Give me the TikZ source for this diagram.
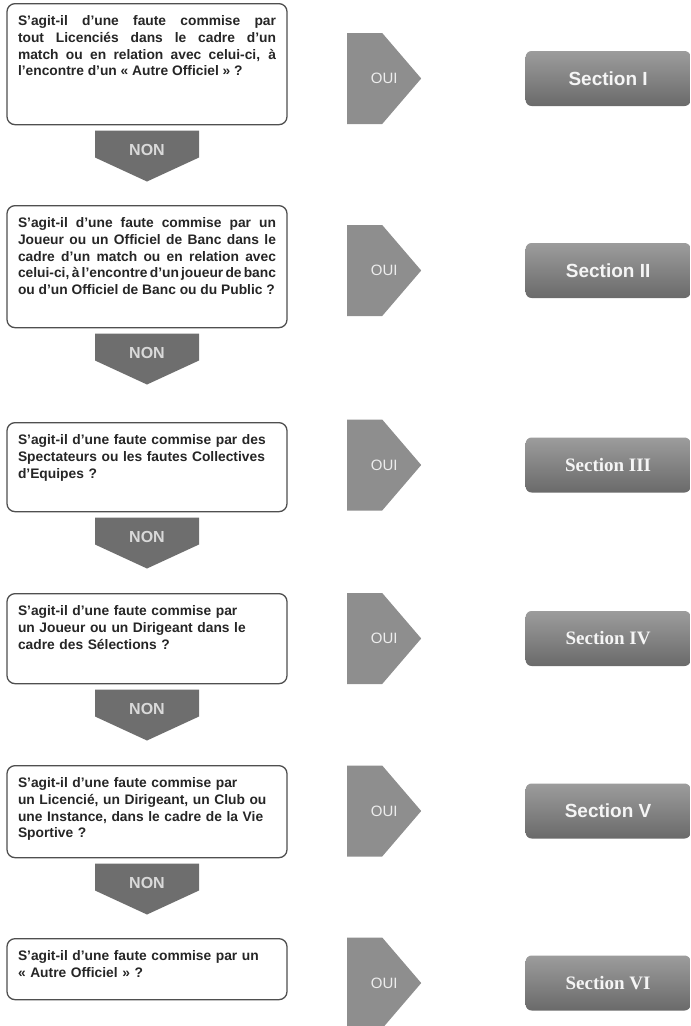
\documentclass[tikz,border=0pt]{standalone}
\usepackage{fontspec}
\setmainfont{Liberation Sans}
\newfontfamily\serifsec{Liberation Serif}
\usetikzlibrary{positioning}
\definecolor{qline}{HTML}{4F4F4F}
\definecolor{nongray}{HTML}{6E6E6E}
\definecolor{ouigray}{HTML}{8E8E8E}
\definecolor{sectop}{HTML}{9C9C9C}
\definecolor{secbot}{HTML}{6A6A6A}
\tikzset{
  question/.style={draw=qline, line width=1.3pt, rounded corners=8pt, fill=white, anchor=north,
    text width=258pt, inner xsep=11pt, inner ysep=12pt, text height=10pt,
    font=\fontsize{13.8}{16.7}\selectfont\bfseries, text=black!85},
  non/.style={rectangle, fill=white, minimum width=104pt, minimum height=51pt, inner sep=0pt,
    text=black!15, font=\fontsize{16}{16}\selectfont\bfseries, text height=11.5pt, text depth=13pt,
    path picture={\fill[nongray] (path picture bounding box.north west)
      -- (path picture bounding box.north east) -- ([yshift=24pt]path picture bounding box.south east)
      -- (path picture bounding box.south) -- ([yshift=24pt]path picture bounding box.south west) -- cycle;}},
  oui/.style={rectangle, fill=white, minimum width=74pt, minimum height=91pt, inner sep=0pt, anchor=west,
    text=black!7, font=\fontsize{15}{15}\selectfont,
    path picture={\fill[ouigray] (path picture bounding box.north west)
      -- ([xshift=-39pt]path picture bounding box.north east) -- (path picture bounding box.east)
      -- ([xshift=-39pt]path picture bounding box.south east) -- (path picture bounding box.south west) -- cycle;}},
  secbox/.style={rounded corners=6pt, top color=sectop, bottom color=secbot, minimum width=165pt,
    minimum height=55pt, text=black!4, font=\fontsize{19}{19}\selectfont\bfseries},
  secserif/.style={font=\fontsize{19}{19}\selectfont\serifsec\bfseries},
}
\begin{document}
\begin{tikzpicture}[x=1pt, y=-1pt]
\useasboundingbox (0,0) rectangle (691,1026);
% questions
\node[question, align=justify, text depth=87pt] (q1) at (147,3) {\parfillskip=0pt
  S'agit-il d'une faute commise par\linebreak tout Licenciés dans le cadre d'un\linebreak
  match ou en relation avec celui-ci, à\linebreak l'encontre d'un « Autre Officiel » ?};
\node[question, align=justify, text depth=88pt] (q2) at (147,205) {\parfillskip=0pt
  S'agit-il d'une faute commise par un\linebreak Joueur ou un Officiel de Banc dans le\linebreak
  cadre d'un match ou en relation avec\linebreak
  {\spaceskip=1pt plus 2pt minus 0.5pt celui-ci, à l'encontre d'un joueur de banc}\linebreak
  ou d'un Officiel de Banc ou du Public ?};
\node[question, align=left, text depth=55pt] (q3) at (147,422)
  {S'agit-il d'une faute commise par des\\ Spectateurs ou les fautes Collectives\\ d'Equipes ?};
\node[question, align=left, text depth=56pt] (q4) at (147,593)
  {S'agit-il d'une faute commise par\\ un Joueur ou un Dirigeant dans le\\ cadre des Sélections ?};
\node[question, align=left, text depth=58pt] (q5) at (147,765)
  {S'agit-il d'une faute commise par\\ un Licencié, un Dirigeant, un Club ou\\
   une Instance, dans le cadre de la Vie\\ Sportive ?};
\node[question, align=left, text depth=27pt] (q6) at (147,938)
  {S'agit-il d'une faute commise par un\\ « Autre Officiel » ?};
% NON
\node[non, below=5pt of q1] (n1) {NON};
\node[non, below=5pt of q2] (n2) {NON};
\node[non, below=5pt of q3] (n3) {NON};
\node[non, below=5pt of q4] (n4) {NON};
\node[non, below=5pt of q5] (n5) {NON};
% OUI
\node[oui] (o1) at (347,78.5) {OUI};
\node[oui] (o2) at (347,270.5) {OUI};
\node[oui] (o3) at (347,465) {OUI};
\node[oui] (o4) at (347,638.5) {OUI};
\node[oui] (o5) at (347,811) {OUI};
\node[oui] (o6) at (347,983) {OUI};
% sections
\node[secbox, right=104pt of o1] (s1) {Section I};
\node[secbox, right=104pt of o2] (s2) {Section II};
\node[secbox, secserif, right=104pt of o3] (s3) {Section III};
\node[secbox, secserif, right=104pt of o4] (s4) {Section IV};
\node[secbox, right=104pt of o5] (s5) {Section V};
\node[secbox, secserif, right=104pt of o6] (s6) {Section VI};
\end{tikzpicture}
\end{document}
